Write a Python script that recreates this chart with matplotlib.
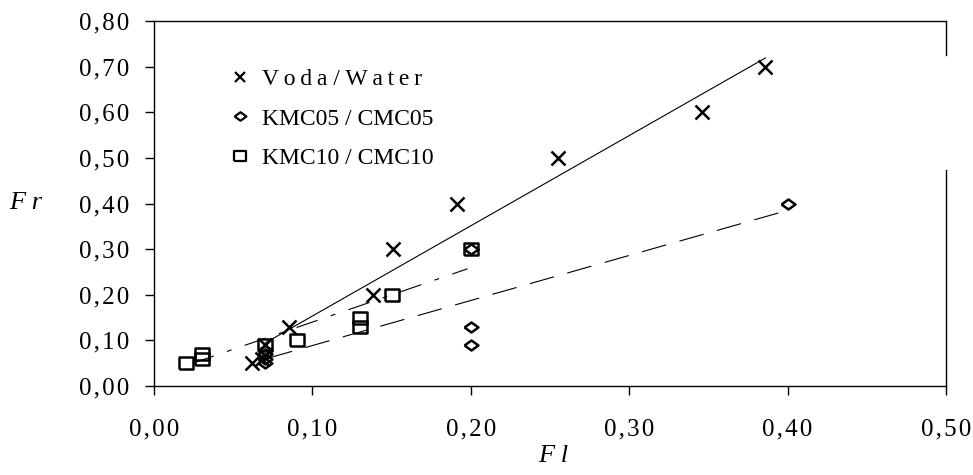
import matplotlib
matplotlib.use("Agg")
import matplotlib.pyplot as plt
from matplotlib.lines import Line2D

plt.rcParams.update({
    "font.family": ["Liberation Serif", "DejaVu Serif"],
    "lines.scale_dashes": False,
})

# Voda / Water
water_fl = [0.062, 0.068, 0.070, 0.085, 0.138, 0.151, 0.191, 0.255, 0.346, 0.386]
water_fr = [0.05, 0.06, 0.09, 0.13, 0.20, 0.30, 0.40, 0.50, 0.60, 0.70]

# KMC05 / CMC05
cmc05_fl = [0.070, 0.070, 0.070, 0.070, 0.200, 0.200, 0.200, 0.400]
cmc05_fr = [0.05, 0.06, 0.07, 0.08, 0.09, 0.13, 0.30, 0.40]

# KMC10 / CMC10
cmc10_fl = [0.020, 0.030, 0.030, 0.070, 0.090, 0.130, 0.130, 0.150, 0.200]
cmc10_fr = [0.05, 0.06, 0.07, 0.09, 0.10, 0.13, 0.15, 0.20, 0.30]

# trend lines (start / end)
water_fit_fl = [0.070, 0.386]
water_fit_fr = [0.094, 0.719]
cmc05_fit_fl = [0.072, 0.397]
cmc05_fit_fr = [0.061, 0.382]
cmc10_fit_fl = [0.0245, 0.198]
cmc10_fit_fr = [0.050, 0.257]

x_ticks = [0.0, 0.1, 0.2, 0.3, 0.4, 0.5]
y_ticks = [0.0, 0.1, 0.2, 0.3, 0.4, 0.5, 0.6, 0.7, 0.8]

HAIR = "\u200a"
THIN = "\u2009"


def spaced(s, sep=HAIR):
    return sep.join(s)


def tick_label(v):
    return spaced(f"{v:.2f}".replace(".", ","))


fig = plt.figure(figsize=(9.73, 4.75), dpi=100)
ax = fig.add_axes([154 / 973, 1 - 386 / 475, (946 - 154) / 973, (386 - 21) / 475])

sq = [(-1, -0.78), (1, -0.78), (1, 0.78), (-1, 0.78), (-1, -0.78)]
dia = [(-1, 0), (0, -0.72), (1, 0), (0, 0.72), (-1, 0)]

ax.plot(water_fit_fl, water_fit_fr, color="black", lw=0.8)
ax.plot(cmc05_fit_fl, cmc05_fit_fr, color="black", lw=0.8, dashes=(18, 10))
ax.plot(cmc10_fit_fl, cmc10_fit_fr, color="black", lw=0.8, dashes=(16, 10, 3.5, 10))

ax.plot(cmc10_fl, cmc10_fr, ls="none", marker=sq, ms=10.5, mfc="none", mec="black", mew=1.8)
ax.plot(cmc05_fl, cmc05_fr, ls="none", marker=dia, ms=10, mfc="none", mec="black", mew=1.8)
ax.plot(water_fl, water_fr, ls="none", marker="x", ms=9.5, mec="black", mew=1.8)

ax.set_xlim(0, 0.5)
ax.set_ylim(0, 0.8)
ax.set_xticks(x_ticks)
ax.set_yticks(y_ticks)
ax.set_xticklabels([tick_label(v) for v in x_ticks])
ax.set_yticklabels([tick_label(v) for v in y_ticks])
ax.tick_params(direction="out", length=6.5, width=1.0, labelsize=18)
ax.tick_params(axis="x", pad=17)
ax.tick_params(axis="y", pad=11)

for side in ["left", "bottom", "top"]:
    ax.spines[side].set_linewidth(1.0)
ax.spines["right"].set_visible(False)
# right border is broken where the old chart was cropped
ax.plot([1, 1], [1, (386 - 55) / 365], transform=ax.transAxes, color="black", lw=1.0, clip_on=False)
ax.plot([1, 1], [(386 - 170) / 365, 0], transform=ax.transAxes, color="black", lw=1.0, clip_on=False)

fig.text(9 / 973, 1 - 203 / 475, spaced("Fr", "\u2005"), fontsize=19, style="italic", va="center", ha="left")
fig.text(553 / 973, 1 - 456 / 475, spaced("Fl", "\u2005"), fontsize=19, style="italic", va="center", ha="center")

handles = [
    Line2D([], [], ls="none", marker="x", ms=7, mec="black", mew=1.6),
    Line2D([], [], ls="none", marker=dia, ms=8.5, mfc="none", mec="black", mew=1.6),
    Line2D([], [], ls="none", marker=sq, ms=9, mfc="none", mec="black", mew=1.6),
]
labels = [
    spaced("Voda", THIN) + " / " + spaced("Water", THIN),
    "KMC05 / CMC05",
    "KMC10 / CMC10",
]
ax.legend(handles, labels, loc="upper left", bbox_to_anchor=(0.083, 0.895), frameon=False,
          fontsize=17, handlelength=0.9, handletextpad=0.5, labelspacing=0.75, borderaxespad=0)

fig.savefig("out.png", dpi=100)
